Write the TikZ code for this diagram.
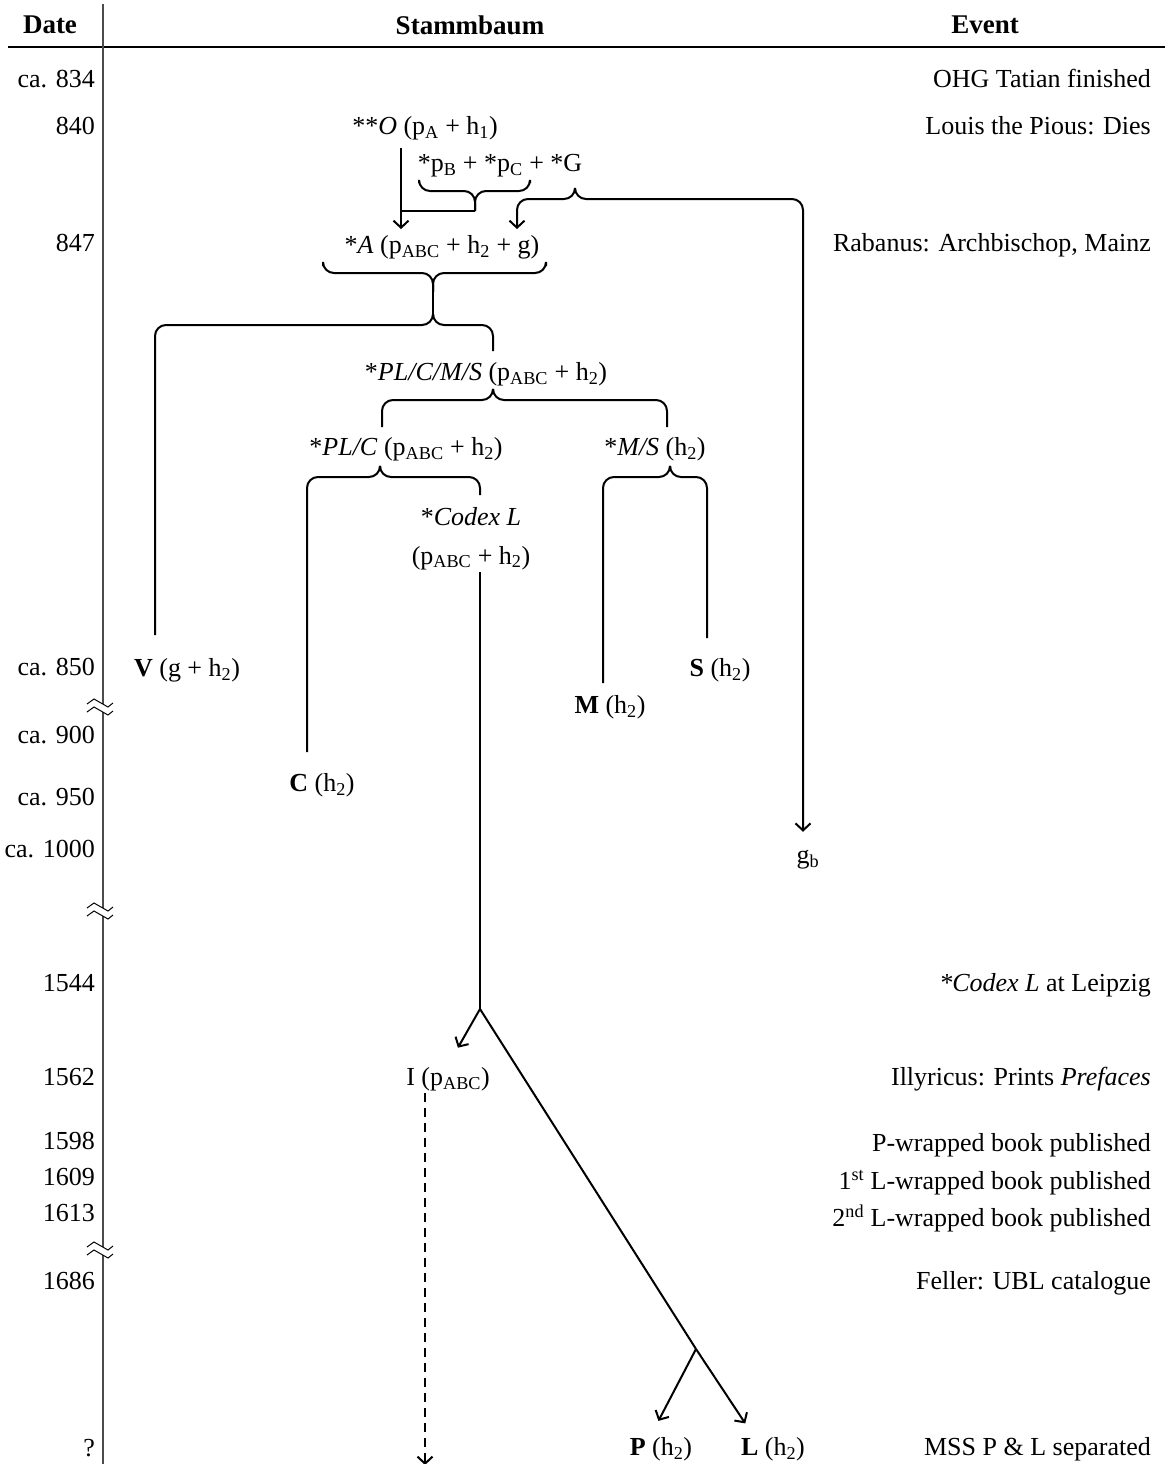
\documentclass[tikz,border=0pt]{standalone}
\usepackage{fontspec}
\setmainfont{Liberation Serif}
\usetikzlibrary{arrows.meta}

\tikzset{
  every node/.style={font=\fontsize{26}{30}\selectfont, inner sep=2pt, yshift=-6pt},
  headlbl/.style={font=\fontsize{27}{30}\selectfont\bfseries, yshift=6pt},
  datelbl/.style={anchor=mid east},
  eventlbl/.style={anchor=mid east},
  msnode/.style={anchor=mid},
  conn/.style={line width=2pt, rounded corners=11pt},
  arr/.style={conn, -{Straight Barb[length=7pt,width=15pt]}},
}

\begin{document}
\begin{tikzpicture}[x=1pt, y=-1pt]
    \useasboundingbox (0,0) rectangle (1171,1464);

    % Column heads
    \node[headlbl] (hdate) at (50,25) {Date};
    \node[headlbl] (hstamm) at (470,25) {Stammbaum};
    \node[headlbl] (hevent) at (985,25) {Event};
    \draw[line width=2.5pt] (8,47) -- (1165,47);

    % Time axis with breaks
    \draw[line width=1.4pt, black!70] (103,4) -- (103,1464);
    \foreach \yb in {707,911,1250} {
      \fill[white] (96,\yb-3) rectangle (110,\yb+5);
      \draw[line width=1pt] (87,\yb-3) -- (94,\yb-8) -- (108,\yb) -- (113,\yb-4);
      \draw[line width=1pt] (87,\yb+5) -- (94,\yb) -- (108,\yb+8) -- (113,\yb+4);
    }

    % Dates
    \foreach \y/\d in {79/ca. 834, 126/840, 243/847, 667/ca. 850, 735/ca. 900,
        797/ca. 950, 849/ca. 1000, 983/1544, 1077/1562, 1141/1598, 1177/1609,
        1213/1613, 1281/1686, 1448/?} {
      \node[datelbl] (date\y) at (97,\y) {\d};
    }

    % Events
    \foreach \y/\e in {79/OHG Tatian finished, 126/Louis the Pious: Dies,
        243/{Rabanus: Archbischop, Mainz}, 983/{\textit{*Codex L} at Leipzig},
        1077/{Illyricus: Prints \textit{Prefaces}}, 1143/P-wrapped book published,
        1181/{1\textsuperscript{st} L-wrapped book published},
        1218/{2\textsuperscript{nd} L-wrapped book published},
        1281/{Feller: UBL catalogue}, 1447/{MSS P \& L separated}} {
      \node[eventlbl] (event\y) at (1153,\y) {\e};
    }

    % Stammbaum
    \node[msnode] (O) at (425,126) {**\textit{O} (p\textsubscript{A} + h\textsubscript{1})};
    \node[msnode] (PBG) at (500,163) {*p\textsubscript{B} + *p\textsubscript{C} + *G};
    \node[msnode] (A) at (442,245) {*\textit{A} (p\textsubscript{ABC} + h\textsubscript{2} + g)};
    \node[msnode] (PLCMS) at (486,372) {*\textit{PL/C/M/S} (p\textsubscript{ABC} + h\textsubscript{2})};
    \node[msnode] (PLC) at (406,447) {*\textit{PL/C} (p\textsubscript{ABC} + h\textsubscript{2})};
    \node[msnode] (MS) at (655,447) {*\textit{M/S} (h\textsubscript{2})};
    \node[anchor=north, align=center, yshift=6pt, font=\fontsize{26}{39}\selectfont] (codex) at (471,505)
      {*\textit{Codex L}\\(p\textsubscript{ABC} + h\textsubscript{2})};
    \node[msnode] (V) at (187,668) {\textbf{V} (g + h\textsubscript{2})};
    \node[msnode] (C) at (322,783) {\textbf{C} (h\textsubscript{2})};
    \node[msnode] (M) at (610,705) {\textbf{M} (h\textsubscript{2})};
    \node[msnode] (S) at (720,668) {\textbf{S} (h\textsubscript{2})};
    \node[msnode] (gb) at (808,855) {g\textsubscript{b}};
    \node[msnode] (I) at (448,1077) {I (p\textsubscript{ABC})};
    \node[msnode] (P) at (661,1447) {\textbf{P} (h\textsubscript{2})};
    \node[msnode] (L) at (773,1447) {\textbf{L} (h\textsubscript{2})};

    % Brace tips and forks
    \coordinate (oStem) at (401,142);
    \coordinate (pbTip) at (475,205);
    \coordinate (gTip) at (575,182);
    \coordinate (aTip) at (433,286);
    \coordinate (splitTip) at (433,310);
    \coordinate (plcmsTip) at (493,385);
    \coordinate (plcTip) at (380,462);
    \coordinate (msTip) at (670,462);
    \coordinate (fork) at (480,1003);
    \coordinate (plFork) at (696,1343);
    \coordinate (iEnd) at (425,1459);

    % O and *pB + *pC into A
    \draw[arr, shorten >=4pt] (oStem) -- (401,0 |- A.north);
    \draw[conn, shorten >=4pt] (pbTip) -- (475,191) -- (419,191) -- (419,0 |- PBG.south);
    \draw[conn, shorten >=4pt] (pbTip) -- (475,191) -- (530,191) -- (530,0 |- PBG.south);
    \draw[line width=2pt] (pbTip) -- (oStem |- pbTip);

    % *G into A and down to g_b
    \draw[arr, shorten >=4pt] (gTip) -- (575,199) -- (517,199) -- (517,0 |- A.north);
    \draw[arr, shorten >=16pt] (gTip) -- (575,199) -- (803,199) -- (803,0 |- gb.north);

    % A
    \draw[conn, shorten >=5pt] (aTip) -- (433,273) -- (323,273) -- (323,0 |- A.south);
    \draw[conn, shorten >=5pt] (aTip) -- (433,273) -- (546,273) -- (546,0 |- A.south);
    \draw[conn] (aTip) -- (splitTip);
    \draw[conn, shorten >=21pt] (splitTip) -- (433,325) -- (155,325) -- (155,0 |- V.north);
    \draw[conn, shorten >=9pt] (splitTip) -- (433,325) -- (493,325) -- (493,0 |- PLCMS.north);

    % *PL/C/M/S
    \draw[conn, shorten >=8pt] (plcmsTip) -- (493,400) -- (382,400) -- (382,0 |- PLC.north);
    \draw[conn, shorten >=8pt] (plcmsTip) -- (493,400) -- (667,400) -- (667,0 |- MS.north);

    % *PL/C
    \draw[conn, shorten >=19pt] (plcTip) -- (380,477) -- (307,477) -- (307,0 |- C.north);
    \draw[conn, shorten >=10pt] (plcTip) -- (380,477) -- (480,477) -- (480,0 |- codex.north);

    % *M/S
    \draw[conn, shorten >=10pt] (msTip) -- (670,477) -- (603,477) -- (603,0 |- M.north);
    \draw[conn, shorten >=18pt] (msTip) -- (670,477) -- (707,477) -- (707,0 |- S.north);

    % *Codex L
    \draw[conn] (480,0 |- codex.south) -- (fork);
    \draw[arr, shorten >=20pt] (fork) -- (I.north);
    \draw[conn] (fork) -- (plFork);
    \draw[arr, shorten >=14pt] (plFork) -- ([xshift=-20pt]L.north);
    \draw[arr, shorten >=16pt] (plFork) -- ([xshift=-10pt]P.north);
    \draw[arr, dash pattern=on 9pt off 6pt] (425,0 |- I.south) -- (iEnd);
\end{tikzpicture}
\end{document}
